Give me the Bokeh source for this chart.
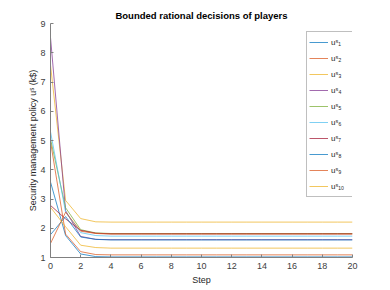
from bokeh.plotting import figure
from bokeh.models import Legend, LegendItem, FixedTicker
from bokeh.embed import file_html
from bokeh.resources import INLINE

steps = list(range(21))
u1 = [3.58, 1.75, 1.12, 1.03] + [1.02] * 17
u2 = [4.96, 1.80, 1.20, 1.10] + [1.09] * 17
u3 = [7.58, 2.95, 2.33, 2.22] + [2.21] * 17
u4 = [8.52, 2.60, 1.72, 1.62] + [1.61] * 17
u5 = [5.05, 2.70, 1.95, 1.84] + [1.82] * 17
u6 = [5.30, 2.55, 1.85, 1.75] + [1.73] * 17
u7 = [2.78, 2.32, 1.93, 1.83] + [1.81] * 17
u8 = [1.78, 2.40, 1.70, 1.62] + [1.60] * 17
u9 = [1.48, 2.55, 1.90, 1.82] + [1.80] * 17
u10 = [2.72, 2.05, 1.42, 1.34] + [1.32] * 17
series = [u1, u2, u3, u4, u5, u6, u7, u8, u9, u10]
labels = ["uˢ₁", "uˢ₂", "uˢ₃", "uˢ₄", "uˢ₅", "uˢ₆", "uˢ₇", "uˢ₈", "uˢ₉", "uˢ₁₀"]
x_ticks = list(range(0, 21, 2))
y_ticks = list(range(1, 10))

colors = ["#0072BD", "#D95319", "#EDB120", "#7E2F8E", "#77AC30",
          "#4DBEEE", "#A2142F", "#0072BD", "#D95319", "#EDB120"]

FONT = "Liberation Sans"

p = figure(width=382, height=287, output_backend="svg", toolbar_location=None,
           x_range=(0, 20), y_range=(1, 9),
           min_border_left=50, min_border_right=30, min_border_top=23, min_border_bottom=10)
p.outline_line_color = None
p.grid.grid_line_color = None
p.background_fill_color = "white"
p.border_fill_color = "white"

p.title.text = "Bounded rational decisions of players"
p.title.align = "center"
p.title.vertical_align = "top"
p.title.text_font = FONT
p.title.text_font_size = "9.5px"
p.title.text_font_style = "bold"
p.title.text_color = "#000000"
p.title.standoff = 2

for ax in (p.xaxis[0], p.yaxis[0]):
    ax.axis_line_color = "#808080"
    ax.major_tick_line_color = "#808080"
    ax.minor_tick_line_color = None
    ax.major_tick_in = 3
    ax.major_tick_out = 0
    ax.major_label_text_font = FONT
    ax.major_label_text_font_size = "9px"
    ax.major_label_text_color = "#404040"
    ax.axis_label_text_font = FONT
    ax.axis_label_text_font_size = "9px"
    ax.axis_label_text_font_style = "normal"
    ax.axis_label_text_color = "#262626"

p.xaxis.ticker = FixedTicker(ticks=x_ticks)
p.yaxis.ticker = FixedTicker(ticks=y_ticks)
p.xaxis.axis_label = "Step"
p.yaxis.axis_label = "Security management policy uˢ (k$)"
p.xaxis.major_label_standoff = 5
p.yaxis.major_label_standoff = 5
p.xaxis.axis_label_standoff = 3
p.yaxis.axis_label_standoff = -1

items = []
for s, c, lab in zip(series, colors, labels):
    r = p.line(steps, s, line_color=c, line_width=0.8, line_alpha=0.9)
    items.append(LegendItem(label=lab, renderers=[r]))

legend = Legend(items=items, location=(256, 60))
legend.label_text_font = FONT
legend.label_text_font_size = "8px"
legend.label_text_color = "#262626"
legend.glyph_width = 19
legend.glyph_height = 16
legend.label_height = 16
legend.label_standoff = 3
legend.spacing = 0
legend.padding = 2
legend.margin = 0
legend.border_line_color = "#808080"
legend.border_line_width = 1
legend.background_fill_color = "white"
legend.background_fill_alpha = 1
p.add_layout(legend, "center")

open("out.html", "w").write(file_html(p, INLINE))
